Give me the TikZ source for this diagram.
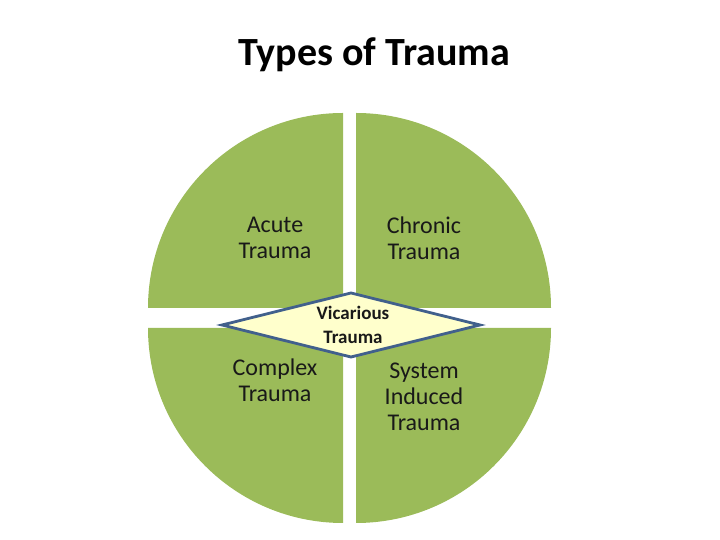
\documentclass[tikz,border=0pt]{standalone}
\usepackage{fontspec}
\setmainfont{Carlito}
\definecolor{pie}{HTML}{9BBB59}
\definecolor{dfill}{HTML}{FFFFCC}
\definecolor{dline}{HTML}{41608C}
\begin{document}
\begin{tikzpicture}[x=1pt,y=1pt,
  lbl/.style={align=center,font=\fontsize{24}{26}\selectfont,text=black!90},
  vlbl/.style={align=center,font=\fontsize{19}{24}\selectfont\bfseries,text=black!90}]
\useasboundingbox (0,0) rectangle (720,540);
% quadrants
\fill[pie] (343,232) -- (148,232) arc[start angle=180,end angle=90,radius=195] -- cycle;
\fill[pie] (356,232) -- (356,427) arc[start angle=90,end angle=0,radius=195] -- cycle;
\fill[pie] (343,212) -- (148,212) arc[start angle=180,end angle=270,radius=195] -- cycle;
\fill[pie] (356,212) -- (551,212) arc[start angle=0,end angle=-90,radius=195] -- cycle;
% diamond
\coordinate (dl) at (222,215);
\coordinate (dt) at (351,247);
\coordinate (dr) at (480,215);
\coordinate (db) at (351,183);
\draw[dline,fill=dfill,line width=2.8pt,line join=miter] (dl) -- (dt) -- (dr) -- (db) -- cycle;
% texts
\node[font=\fontsize{40}{44}\selectfont\bfseries] (title) at (374,485) {Types of Trauma};
\node[lbl] (acute) at (275,302) {Acute\\Trauma};
\node[lbl] (chronic) at (424,302) {Chronic\\Trauma};
\node[lbl] (complex) at (275,160) {Complex\\Trauma};
\node[lbl] (system) at (424,143) {System\\Induced\\Trauma};
\node[vlbl] (vic) at (353,215) {Vicarious\\Trauma};
\end{tikzpicture}
\end{document}
